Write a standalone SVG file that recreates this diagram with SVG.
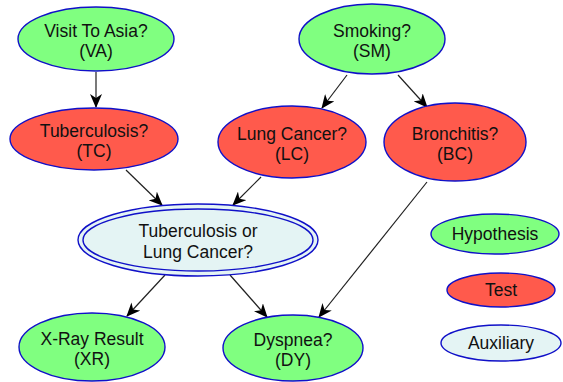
<svg xmlns="http://www.w3.org/2000/svg" width="563" height="382" viewBox="0 0 563 382">
  <defs>
    <style>
      .node { stroke: #1010c8; stroke-width: 1.4; }
      .hyp { fill: #80ff80; }
      .test { fill: #ff5a4c; }
      .aux { fill: #e4f4f4; }
      .edge { stroke: #202020; stroke-width: 1.2; fill: none; marker-end: url(#arrow); }
      text { font-family: "Liberation Sans", Arial, sans-serif; font-size: 17.5px; fill: #111; text-anchor: middle; }
    </style>
    <marker id="arrow" viewBox="0 0 14 12" refX="13" refY="6" markerWidth="14" markerHeight="12" markerUnits="userSpaceOnUse" orient="auto">
      <path d="M0,0 L14,6 L0,12 L4,6 z" fill="#000"/>
    </marker>
  </defs>
  <rect width="563" height="382" fill="#fff"/>

  <g id="connectors">
    <line class="edge" x1="96" y1="72" x2="96" y2="107"/>
    <line class="edge" x1="347" y1="75" x2="322" y2="108"/>
    <line class="edge" x1="398" y1="75" x2="427" y2="107"/>
    <line class="edge" x1="126" y1="170" x2="162" y2="205"/>
    <line class="edge" x1="261" y1="177" x2="233" y2="205"/>
    <line class="edge" x1="165" y1="275" x2="127" y2="316"/>
    <line class="edge" x1="230" y1="275" x2="267" y2="317"/>
    <line class="edge" x1="427" y1="182" x2="319" y2="317"/>
  </g>

  <g id="VA">
    <ellipse class="node hyp" cx="96" cy="39" rx="78" ry="32"/>
    <text x="96" y="37">Visit To Asia?</text>
    <text x="96" y="57">(VA)</text>
  </g>
  <g id="SM">
    <ellipse class="node hyp" cx="372" cy="39" rx="73" ry="35"/>
    <text x="372" y="37">Smoking?</text>
    <text x="372" y="57">(SM)</text>
  </g>
  <g id="TC">
    <ellipse class="node test" cx="94" cy="139" rx="84" ry="31"/>
    <text x="94" y="137">Tuberculosis?</text>
    <text x="94" y="157">(TC)</text>
  </g>
  <g id="LC">
    <ellipse class="node test" cx="292" cy="142" rx="74" ry="36"/>
    <text x="292" y="140">Lung Cancer?</text>
    <text x="292" y="160">(LC)</text>
  </g>
  <g id="BC">
    <ellipse class="node test" cx="455" cy="142" rx="71" ry="39"/>
    <text x="455" y="140">Bronchitis?</text>
    <text x="455" y="160">(BC)</text>
  </g>
  <g id="TBorCA">
    <ellipse class="node aux" cx="198" cy="240" rx="120" ry="36"/>
    <ellipse cx="198" cy="240" rx="115" ry="31" fill="none" stroke="#1010c8" stroke-width="1.4"/>
    <text x="198" y="237">Tuberculosis or</text>
    <text x="198" y="258">Lung Cancer?</text>
  </g>
  <g id="XR">
    <ellipse class="node hyp" cx="92" cy="347" rx="73" ry="34"/>
    <text x="92" y="345">X-Ray Result</text>
    <text x="92" y="365">(XR)</text>
  </g>
  <g id="DY">
    <ellipse class="node hyp" cx="293" cy="348" rx="70" ry="33"/>
    <text x="293" y="346">Dyspnea?</text>
    <text x="293" y="366">(DY)</text>
  </g>
  <g id="legend-hypothesis">
    <ellipse class="node hyp" cx="495" cy="234" rx="64" ry="20"/>
    <text x="495" y="240">Hypothesis</text>
  </g>
  <g id="legend-test">
    <ellipse class="node test" cx="501" cy="290" rx="54" ry="17"/>
    <text x="501" y="296">Test</text>
  </g>
  <g id="legend-auxiliary">
    <ellipse class="node aux" cx="501" cy="343" rx="60" ry="18"/>
    <text x="501" y="349">Auxiliary</text>
  </g>
</svg>
